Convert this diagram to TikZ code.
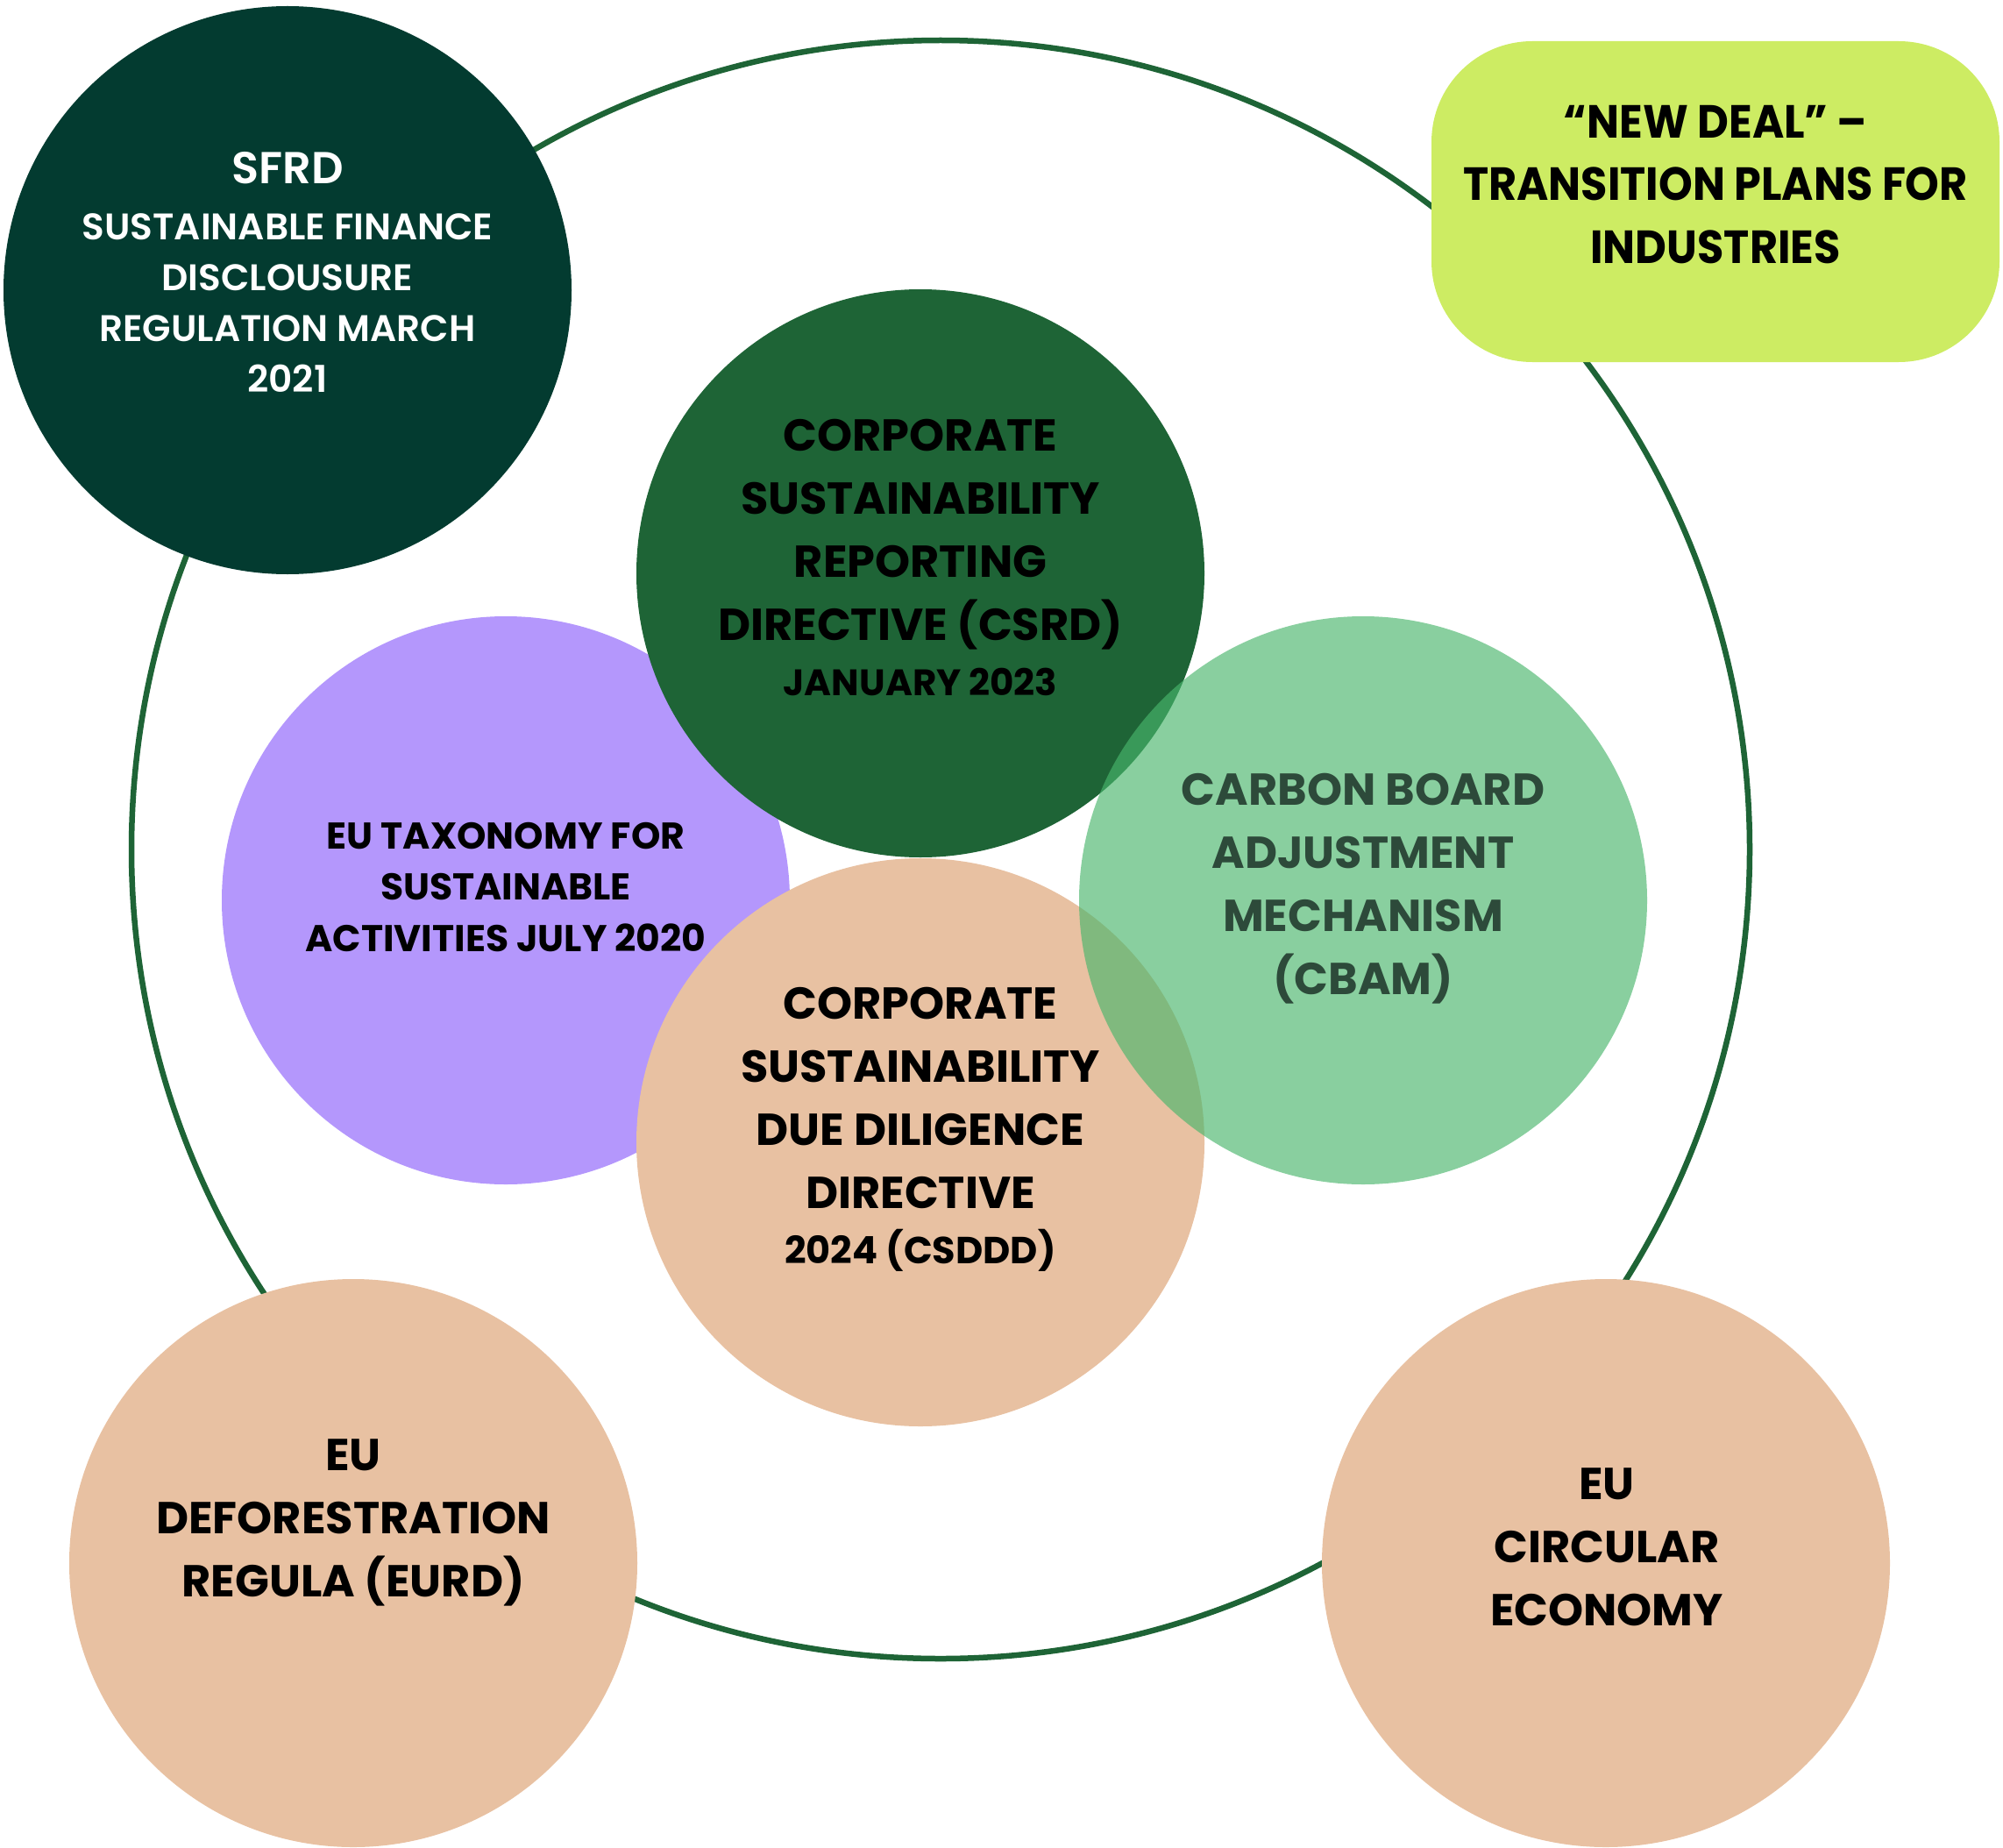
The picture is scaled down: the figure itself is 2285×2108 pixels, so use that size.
\documentclass[tikz,border=0pt]{standalone}
\usepackage{fontspec}
\setmainfont{Poppins}
\newfontfamily\condfont{Poppins}[FakeStretch=0.93]
\IfFontExistsTF{Poppins SemiBold}{\newfontfamily\semifont{Poppins SemiBold}}{\newcommand\semifont{\bfseries}}
\definecolor{sfrdgreen}{RGB}{3,59,48}
\definecolor{csrdgreen}{RGB}{30,100,54}
\definecolor{lavender}{RGB}{180,151,252}
\definecolor{lime}{RGB}{205,236,99}
\definecolor{peach}{RGB}{232,193,162}
\definecolor{cbamgreen}{RGB}{73,182,108}
\definecolor{cbamtext}{RGB}{45,74,58}
\tikzset{
  blob/.style={circle, inner sep=0pt, minimum size=648pt, draw=none},
  lbl/.style={anchor=north, inner sep=0pt, align=center},
}
\begin{document}
\begin{tikzpicture}[x=1pt,y=-1pt]
\useasboundingbox (0,0) rectangle (2285,2108);
% outer ring
\node[circle, draw=csrdgreen, line width=6.5pt, minimum size=1846pt, inner sep=0pt] (ring) at (1073,969) {};
% shapes
\node[blob, fill=sfrdgreen] (sfrd) at (328,331) {};
\node[rectangle, rounded corners=115pt, fill=lime, minimum width=648pt, minimum height=366pt, inner sep=0pt] (deal) at (1957,230) {};
\node[blob, fill=lavender] (tax) at (577,1027) {};
\node[blob, fill=csrdgreen] (csrd) at (1050,654) {};
\node[blob, fill=peach] (csddd) at (1050,1303) {};
\node[blob, fill=cbamgreen, fill opacity=0.65] (cbam) at (1555,1027) {};
\node[blob, fill=peach] (eurd) at (403,1783) {};
\node[blob, fill=peach] (circ) at (1832,1783) {};
% texts
\node[lbl, text=white, font=\semifont\fontsize{42.2}{58}\selectfont] (sfrdtext) at (328,173)
  {{\fontsize{51}{58}\selectfont SFRD}\\[6pt]SUSTAINABLE FINANCE\\DISCLOUSURE\\REGULATION MARCH\\2021};
\node[lbl, font=\condfont\bfseries\fontsize{53}{71.5}\selectfont] (dealtext) at (1957,120)
  {“NEW DEAL” –\\TRANSITION PLANS FOR\\INDUSTRIES};
\node[lbl, font=\bfseries\fontsize{51}{72}\selectfont] (csrdtext) at (1050,478)
  {CORPORATE\\SUSTAINABILITY\\REPORTING\\DIRECTIVE (CSRD)\\[-9pt]{\fontsize{42}{72}\selectfont JANUARY 2023}};
\node[lbl, font=\bfseries\fontsize{42.5}{58.5}\selectfont] (taxtext) at (577,938)
  {EU TAXONOMY FOR\\SUSTAINABLE\\ACTIVITIES JULY 2020};
\node[lbl, text=cbamtext, font=\bfseries\fontsize{51}{72}\selectfont] (cbamtext) at (1555,882)
  {CARBON BOARD\\ADJUSTMENT\\MECHANISM\\(CBAM)};
\node[lbl, font=\bfseries\fontsize{51}{72}\selectfont] (csdddtext) at (1050,1126)
  {CORPORATE\\SUSTAINABILITY\\DUE DILIGENCE\\DIRECTIVE\\[-9pt]{\fontsize{43}{72}\selectfont 2024 (CSDDD)}};
\node[lbl, font=\bfseries\fontsize{51}{72}\selectfont] (eurdtext) at (403,1641)
  {EU\\DEFORESTRATION\\REGULA (EURD)};
\node[lbl, font=\bfseries\fontsize{51}{72}\selectfont] (circtext) at (1833,1674)
  {EU\\CIRCULAR\\ECONOMY};
\end{tikzpicture}
\end{document}
